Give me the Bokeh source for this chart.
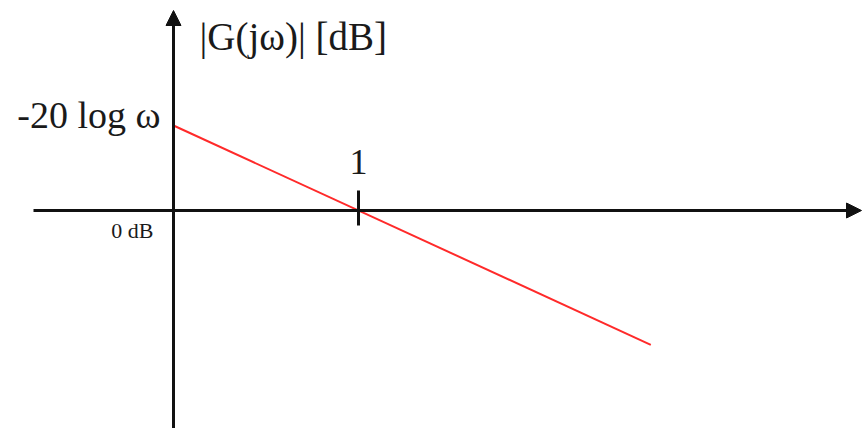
from bokeh.plotting import figure
from bokeh.models import Range1d, Arrow, NormalHead
from bokeh.core.properties import value
from bokeh.embed import file_html
from bokeh.resources import INLINE

# ---- data (schematic Bode magnitude asymptote) ----
line_x = [0.0, 2.58]          # log-frequency units (0 at vertical axis, 1 at crossover)
line_y_db = [20.0, -31.6]     # magnitude in dB
tick_x = [1.0]
tick_labels = ["1"]
y_axis_label = "|G(jω)| [dB]"
start_label = "-20 log ω"
zero_label = "0 dB"

# ---- layout constants ----
W, H = 863, 428
PX_X = 185.0      # pixels per x unit
PX_Y = 4.25       # pixels per dB
ORIGIN_PX = 173   # plot-x of vertical axis
ORIGIN_PY = 210   # plot-y (from top) of horizontal axis

x0 = -ORIGIN_PX / PX_X
x1 = (W - ORIGIN_PX) / PX_X
y1 = ORIGIN_PY / PX_Y
y0 = -(H - ORIGIN_PY) / PX_Y

p = figure(width=W, height=H, x_range=Range1d(x0, x1), y_range=Range1d(y0, y1),
           output_backend="svg", toolbar_location=None, min_border=0,
           outline_line_color=None, background_fill_color="white",
           border_fill_color="white")
p.xaxis.visible = False
p.yaxis.visible = False
p.xgrid.visible = False
p.ygrid.visible = False

axis_col = "#111111"
font = value("Liberation Serif")

# vertical axis with arrow
v_tip = (ORIGIN_PY - 10) / PX_Y
p.add_layout(Arrow(end=NormalHead(size=15, fill_color=axis_col, line_color=axis_col, line_width=1),
                   x_start=0, y_start=y0, x_end=0, y_end=v_tip,
                   line_color=axis_col, line_width=3))
# horizontal axis with arrow
h_start = (33 - ORIGIN_PX) / PX_X
h_tip = (W - 2 - ORIGIN_PX) / PX_X
p.add_layout(Arrow(end=NormalHead(size=15, fill_color=axis_col, line_color=axis_col, line_width=1),
                   x_start=h_start, y_start=0, x_end=h_tip, y_end=0,
                   line_color=axis_col, line_width=3))

# tick mark at crossover
p.segment(x0=tick_x, y0=[20 / PX_Y] * len(tick_x), x1=tick_x, y1=[-15 / PX_Y] * len(tick_x),
          line_color=axis_col, line_width=3)

# asymptote
p.line(line_x, line_y_db, line_color="#ff2a2a", line_width=2)

# labels
p.text(x=tick_x, y=[0] * len(tick_x), text=tick_labels, text_font=font,
       text_font_size="36px", text_align="center", text_baseline="alphabetic",
       y_offset=-49, text_color="#1a1a1a")
p.text(x=[0], y=[line_y_db[0]], text=[start_label], text_font=font,
       text_font_size="38px", text_align="right", text_baseline="alphabetic",
       x_offset=-13, y_offset=-11, text_color="#1a1a1a")
p.text(x=[0], y=[0], text=[zero_label], text_font=font,
       text_font_size="22px", text_align="right", text_baseline="alphabetic",
       x_offset=-20, y_offset=20, text_color="#1a1a1a")
p.text(x=[0], y=[v_tip], text=[y_axis_label], text_font=font,
       text_font_size="39px", text_align="left", text_baseline="alphabetic",
       x_offset=26, y_offset=26, text_color="#1a1a1a")

open("out.html", "w").write(file_html(p, INLINE))
